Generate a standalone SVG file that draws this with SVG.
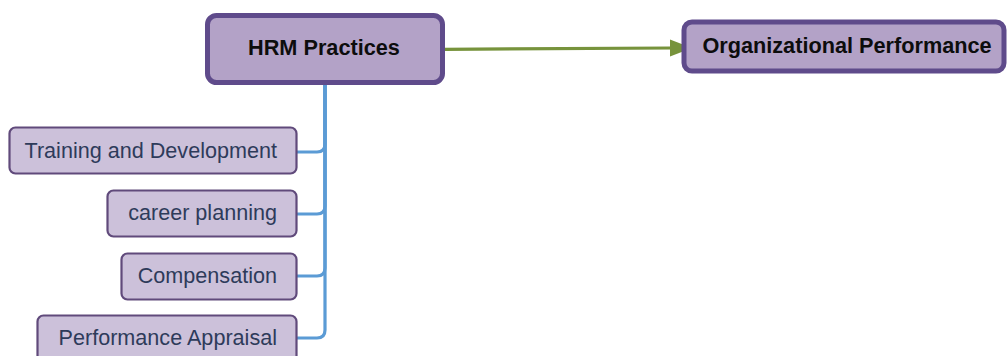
<svg xmlns="http://www.w3.org/2000/svg" width="1008" height="356" viewBox="0 0 1008 356">
<style>
.main{fill:#b3a2c7;stroke:#5f4b8b;stroke-width:5}
.child{fill:#ccc1da;stroke:#604a7b;stroke-width:2.2}
.mt{font-family:"Liberation Sans",Arial,sans-serif;font-weight:bold;font-size:21.7px;fill:#0d0d0d;text-anchor:middle}
.ct{font-family:"Liberation Sans",Arial,sans-serif;font-size:21.6px;fill:#2e3b5a;text-anchor:end}
.br{fill:none;stroke:#5b9bd5;stroke-width:3.2}
</style>
<g id="connectors">
<path class="br" d="M325,85 V144 Q325,152 317,152 H297"/>
<path class="br" d="M325,85 V206 Q325,214 317,214 H297"/>
<path class="br" d="M325,85 V268 Q325,276 317,276 H297"/>
<path class="br" d="M325,85 V330 Q325,338 317,338 H297"/>
<path d="M444,49.3 L671,48" fill="none" stroke="#77933c" stroke-width="3.2"/>
<path d="M670,39.5 L692,48 L670,56.5 Z" fill="#77933c"/>
</g>
<g id="hrm">
<rect class="main" x="207.5" y="15.5" width="235" height="67" rx="9"/>
<text class="mt" x="324" y="55">HRM Practices</text>
</g>
<g id="orgperf">
<rect class="main" x="684" y="22" width="320" height="49" rx="8" stroke-width="4.5"/>
<text class="mt" x="847" y="53">Organizational Performance</text>
</g>
<g id="training">
<rect class="child" x="9.5" y="127.5" width="287" height="46" rx="6"/>
<text class="ct" x="277" y="158">Training and Development</text>
</g>
<g id="career">
<rect class="child" x="107.5" y="190.5" width="189" height="46" rx="6"/>
<text class="ct" x="277" y="220">career planning</text>
</g>
<g id="compensation">
<rect class="child" x="121.5" y="253.5" width="175" height="46" rx="6"/>
<text class="ct" x="277" y="283">Compensation</text>
</g>
<g id="appraisal">
<rect class="child" x="37.5" y="315.5" width="259" height="50" rx="6"/>
<text class="ct" x="277" y="345">Performance Appraisal</text>
</g>
</svg>
